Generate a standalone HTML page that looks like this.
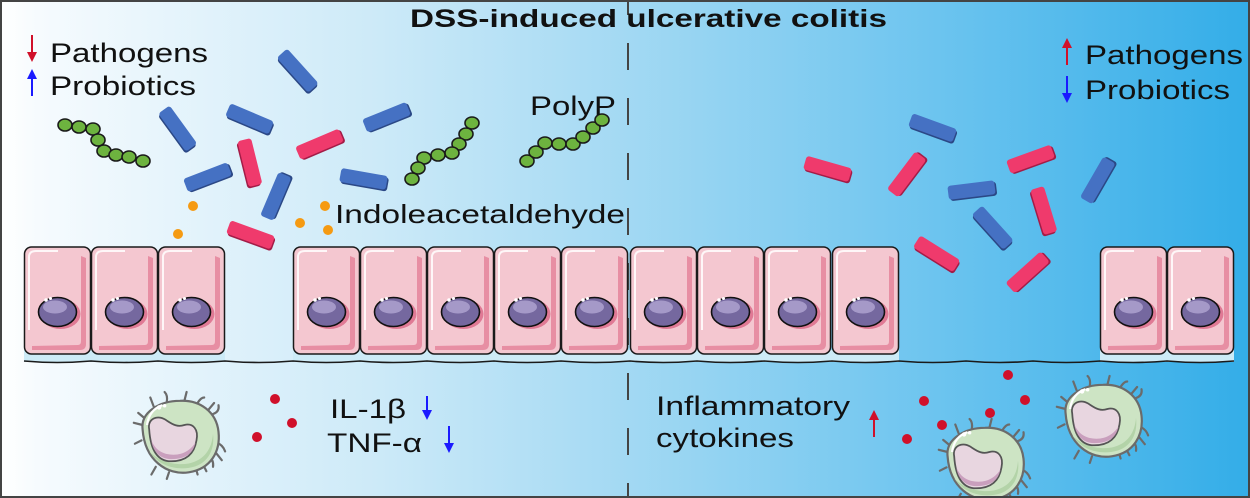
<!DOCTYPE html>
<html><head><meta charset="utf-8"><style>
html,body{margin:0;padding:0;background:#fff;}
svg{display:block;}
text{font-family:"Liberation Sans",Arial,sans-serif;fill:#111;}
</style></head><body>
<svg width="1250" height="498" viewBox="0 0 1250 498" xmlns="http://www.w3.org/2000/svg">
<defs>
<linearGradient id="bg" x1="0" y1="0" x2="1" y2="0">
<stop offset="0" stop-color="#ffffff"/>
<stop offset="0.03" stop-color="#f6fbfe"/>
<stop offset="0.3" stop-color="#cdeaf8"/>
<stop offset="0.5" stop-color="#a3d9f3"/>
<stop offset="0.75" stop-color="#6cc4ef"/>
<stop offset="1" stop-color="#33ade8"/>
</linearGradient>
<g id="cell">
<rect x="0.5" y="247" width="66" height="107" rx="7" fill="#f4c7d0" stroke="#1a1a1a" stroke-width="1.5"/>
<path d="M57,256 L62,258 L62,344 Q62,350 56,350 L8,350 L8,346 L54,345 Q57,345 57,341 Z" fill="#e4849b" opacity="0.85"/>
<path d="M5,330 L5,257 Q5,251 12,251 L34,251" fill="none" stroke="#fff" stroke-width="2" opacity="0.85"/>
<ellipse cx="36.5" cy="314" rx="20" ry="15" fill="#e07a95"/>
<ellipse cx="33.5" cy="312" rx="19" ry="14.5" fill="#75689f" stroke="#111" stroke-width="1.6"/>
<ellipse cx="31" cy="307" rx="12" ry="6.5" fill="#a599c8"/>
<circle cx="22" cy="300" r="1.8" fill="#fff"/>
<circle cx="26.5" cy="298.5" r="1.5" fill="#fff"/>
</g>
<g id="mac">
<g fill="none" stroke="#6b6b6b" stroke-width="2" stroke-linecap="round">
<path d="M-24,-27 l-3,-8 M-12,-31 q1,-6 -2,-9 M4,-32 l2,-8 M16,-30 q3,-5 6,-5 M26,-24 l5,-6 M30,-20 q6,-2 5,-8"/>
<path d="M33,6 q6,2 8,8 M30,12 l8,10 M26,18 q5,4 4,10 M20,24 l4,8 M14,28 l2,7"/>
<path d="M-34,-10 l-8,-2 M-32,-16 l-6,-5 M-22,28 l-4,7 M-10,33 l-2,6 M-35,4 l-6,3"/>
</g>
<path d="M-34,-6 C-36,-22 -18,-32 0,-32 C18,-33 33,-22 35,-4 C37,14 28,30 8,33 C-12,36 -32,22 -34,-6 Z" fill="#cde4c4" stroke="#6b6b6b" stroke-width="2"/>
<path d="M30,-2 C32,14 24,27 8,29 C-6,31 -20,26 -28,14 C-18,24 -4,27 8,25 C22,22 29,12 30,-2 Z" fill="#b3d3a8"/>
<path d="M-28,-6 C-30,-16 -20,-20 -12,-14 C-6,-10 -2,-8 4,-10 C12,-12 17,-6 15,4 C13,16 6,23 -8,23 C-22,23 -27,10 -28,-6 Z" fill="#e8d6e0" stroke="#555" stroke-width="1.6"/>
<path d="M14,6 C12,16 5,21 -8,21 C-20,21 -25,12 -26,4 C-22,14 -14,17 -6,17 C4,17 10,12 14,6 Z" fill="#c99fbd"/>
<path d="M-30,-10 Q-28,-24 -16,-28" fill="none" stroke="#fff" stroke-width="2"/>
<circle cx="-19" cy="-26" r="2" fill="#fff"/><circle cx="-14" cy="-27.5" r="1.6" fill="#fff"/>
</g>
<g id="rb"><rect x="-22.5" y="-5.5" width="47" height="14" rx="3" fill="#2b4886"/><rect x="-24" y="-7" width="47" height="14" rx="3" fill="#4571c3"/></g>
<g id="rp"><rect x="-22.5" y="-5.5" width="47" height="14" rx="3" fill="#a31c47"/><rect x="-24" y="-7" width="47" height="14" rx="3" fill="#ef3a6c"/></g>
</defs>

<rect x="0" y="0" width="1250" height="498" fill="url(#bg)"/>

<line x1="628" y1="-12" x2="628" y2="498" stroke="#444" stroke-width="2" stroke-dasharray="27 28"/>

<text x="410" y="27" font-size="25" font-weight="bold" textLength="477" lengthAdjust="spacingAndGlyphs">DSS-induced ulcerative colitis</text>

<line x1="32" y1="35" x2="32" y2="55" stroke="#d0102a" stroke-width="2"/>
<path d="M27,52 L37,52 L32,62 Z" fill="#d0102a"/>
<line x1="32" y1="77" x2="32" y2="96" stroke="#1a1aff" stroke-width="2"/>
<path d="M27,79 L37,79 L32,69 Z" fill="#1a1aff"/>
<text x="50" y="62" font-size="27" textLength="158" lengthAdjust="spacingAndGlyphs">Pathogens</text>
<text x="50" y="95" font-size="27" textLength="146" lengthAdjust="spacingAndGlyphs">Probiotics</text>

<line x1="1067" y1="46" x2="1067" y2="65" stroke="#d0102a" stroke-width="2"/>
<path d="M1062,48 L1072,48 L1067,38 Z" fill="#d0102a"/>
<line x1="1067" y1="76" x2="1067" y2="95" stroke="#1a1aff" stroke-width="2"/>
<path d="M1062,93 L1072,93 L1067,103 Z" fill="#1a1aff"/>
<text x="1085" y="64" font-size="27" textLength="158" lengthAdjust="spacingAndGlyphs">Pathogens</text>
<text x="1085" y="99" font-size="27" textLength="145" lengthAdjust="spacingAndGlyphs">Probiotics</text>

<use href="#rb" transform="translate(298,71) rotate(48)"/>
<use href="#rb" transform="translate(178,129) rotate(54)"/>
<use href="#rb" transform="translate(250,119) rotate(23)"/>
<use href="#rb" transform="translate(208,177) rotate(-21)"/>
<use href="#rp" transform="translate(250,163) rotate(76)"/>
<use href="#rb" transform="translate(276,196) rotate(-67)"/>
<use href="#rb" transform="translate(364,179) rotate(10)"/>
<use href="#rb" transform="translate(387,117) rotate(-22)"/>
<use href="#rp" transform="translate(320,144) rotate(-23)"/>
<use href="#rp" transform="translate(251,235) rotate(20)"/>

<g fill="#f59a12">
<circle cx="193" cy="206" r="5"/><circle cx="178" cy="234" r="5"/><circle cx="300" cy="223" r="5"/><circle cx="325" cy="206" r="5"/><circle cx="328" cy="230" r="5"/>
</g>

<g fill="#6db33f" stroke="#1a1a1a" stroke-width="1.6">
<ellipse cx="65" cy="125" rx="7" ry="6"/><ellipse cx="79" cy="127" rx="7" ry="6"/><ellipse cx="93" cy="129" rx="7" ry="6"/><ellipse cx="98" cy="140" rx="7" ry="6"/><ellipse cx="104" cy="151" rx="7" ry="6"/><ellipse cx="116" cy="155" rx="7" ry="6"/><ellipse cx="129" cy="157" rx="7" ry="6"/><ellipse cx="143" cy="161" rx="7" ry="6"/>
<ellipse cx="472" cy="123" rx="7" ry="6"/><ellipse cx="466" cy="134" rx="7" ry="6"/><ellipse cx="459" cy="144" rx="7" ry="6"/><ellipse cx="452" cy="153" rx="7" ry="6"/><ellipse cx="438" cy="155" rx="7" ry="6"/><ellipse cx="424" cy="158" rx="7" ry="6"/><ellipse cx="418" cy="168" rx="7" ry="6"/><ellipse cx="412" cy="179" rx="7" ry="6"/>
<ellipse cx="527" cy="161" rx="7" ry="6"/><ellipse cx="536" cy="152" rx="7" ry="6"/><ellipse cx="545" cy="143" rx="7" ry="6"/><ellipse cx="559" cy="144" rx="7" ry="6"/><ellipse cx="573" cy="144" rx="7" ry="6"/><ellipse cx="583" cy="137" rx="7" ry="6"/><ellipse cx="593" cy="128" rx="7" ry="6"/><ellipse cx="602" cy="120" rx="7" ry="6"/>
</g>

<text x="530" y="115" font-size="27" textLength="86" lengthAdjust="spacingAndGlyphs">PolyP</text>
<text x="335" y="223" font-size="26" textLength="290" lengthAdjust="spacingAndGlyphs">Indoleacetaldehyde</text>

<use href="#rb" transform="translate(933,128) rotate(20)"/>
<use href="#rb" transform="translate(972,190) rotate(-7)"/>
<use href="#rb" transform="translate(993,228) rotate(48)"/>
<use href="#rb" transform="translate(1098,180) rotate(-60)"/>
<use href="#rp" transform="translate(828,169) rotate(16)"/>
<use href="#rp" transform="translate(907,174) rotate(-53)"/>
<use href="#rp" transform="translate(1031,159) rotate(-20)"/>
<use href="#rp" transform="translate(1044,211) rotate(73)"/>
<use href="#rp" transform="translate(937,254) rotate(32)"/>
<use href="#rp" transform="translate(1028,272) rotate(-42)"/>

<g fill="#cdebf7">
<rect x="24" y="350" width="201" height="12"/>
<rect x="293" y="350" width="606" height="12"/>
<rect x="1100" y="350" width="134" height="12"/>
</g>

<use href="#cell" x="24"/><use href="#cell" x="91"/><use href="#cell" x="158"/>
<use href="#cell" x="293"/><use href="#cell" x="360"/><use href="#cell" x="427"/><use href="#cell" x="494"/><use href="#cell" x="561"/>
<use href="#cell" x="630"/><use href="#cell" x="697"/><use href="#cell" x="764"/><use href="#cell" x="832"/>
<use href="#cell" x="1100"/><use href="#cell" x="1167"/>

<path d="M24,361 Q57,364 91,361 Q124,364 158,361 Q191,364 225,361 Q259,364 293,361 Q326,364 360,361 Q393,364 427,361 Q460,364 494,361 Q527,364 561,361 Q595,364 630,361 Q663,364 697,361 Q730,364 764,361 Q798,364 832,361 Q865,364 899,361 Q933,364 966,361 Q1000,364 1033,361 Q1066,364 1100,361 Q1133,364 1167,361 Q1200,364 1234,361" fill="none" stroke="#1a1a1a" stroke-width="1.6"/>

<g fill="#d0102a">
<circle cx="275" cy="399" r="5"/><circle cx="292" cy="423" r="5"/><circle cx="257" cy="437" r="5"/>
<circle cx="1008" cy="375" r="5"/><circle cx="924" cy="401" r="5"/><circle cx="1025" cy="400" r="5"/><circle cx="990" cy="413" r="5"/><circle cx="942" cy="425" r="5"/><circle cx="907" cy="439" r="5"/>
</g>

<use href="#mac" transform="translate(180,436) scale(1.1)"/>
<use href="#mac" transform="translate(1103,420) scale(1.1)"/>
<use href="#mac" transform="translate(985,463) scale(1.1)"/>

<text x="330" y="418" font-size="27" textLength="76" lengthAdjust="spacingAndGlyphs">IL-1β</text>
<text x="327" y="452" font-size="27" textLength="95" lengthAdjust="spacingAndGlyphs">TNF-α</text>
<line x1="427" y1="396" x2="427" y2="412" stroke="#1a1aff" stroke-width="2"/>
<path d="M422,410 L432,410 L427,420 Z" fill="#1a1aff"/>
<line x1="449" y1="426" x2="449" y2="445" stroke="#1a1aff" stroke-width="2"/>
<path d="M444,443 L454,443 L449,453 Z" fill="#1a1aff"/>

<text x="656" y="415" font-size="27" textLength="194" lengthAdjust="spacingAndGlyphs">Inflammatory</text>
<text x="656" y="447" font-size="27" textLength="138" lengthAdjust="spacingAndGlyphs">cytokines</text>
<line x1="874" y1="418" x2="874" y2="437" stroke="#d0102a" stroke-width="2"/>
<path d="M869,420 L879,420 L874,410 Z" fill="#d0102a"/>

<rect x="1" y="1" width="1248" height="496" fill="none" stroke="#444" stroke-width="2"/>
</svg>
</body></html>
